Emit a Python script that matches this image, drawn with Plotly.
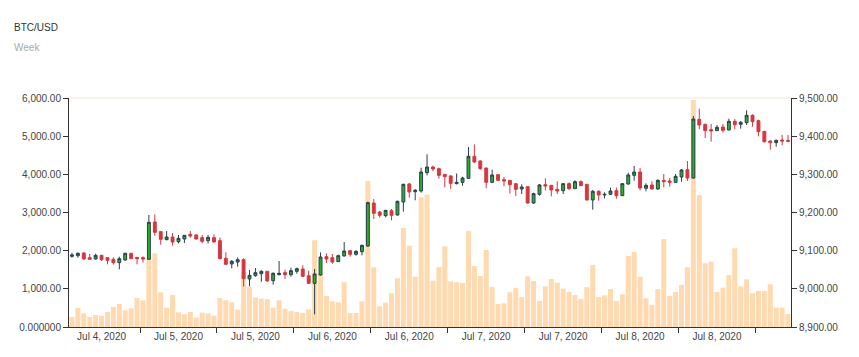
import plotly.graph_objects as go

volume = [262, 498, 358, 262, 314, 297, 393, 524, 603, 437,
          489, 760, 699, 1800, 1930, 908, 507, 838, 384, 332,
          393, 245, 376, 358, 297, 760, 699, 646, 454, 1440,
          1057, 777, 742, 734, 507, 699, 480, 419, 393, 367,
          463, 2271, 1400, 812, 672, 646, 1170, 367, 367, 672,
          3825, 1563, 541, 638, 882, 1275, 2594, 2131, 1319, 3397,
          3467, 1214, 1572, 2114, 1197, 1170, 1153, 2515, 1598, 1336,
          2017, 1048, 603, 620, 908, 1022, 786, 1328, 1205, 681,
          1066, 1258, 1162, 1004, 917, 838, 734, 1048, 1624, 786,
          830, 996, 681, 856, 1860, 1965, 1319, 751, 576, 996,
          2306, 812, 917, 1100, 1563, 5948, 3459, 1668, 1712, 917,
          1031, 1362, 2061, 1066, 1249, 882, 943, 943, 1118, 507,
          507, 341]

open_ = [9085.2, 9086.9, 9093.9, 9081.7, 9078.2, 9087.8, 9081.7, 9077.3, 9068.6, 9075.6,
         9093.0, 9082.5, 9081.7, 9077.3, 9175.1, 9149.8, 9128.8, 9135.8, 9123.6, 9130.6,
         9142.8, 9141.1, 9134.1, 9126.2, 9134.1, 9126.2, 9079.9, 9065.1, 9070.3, 9076.4,
         9025.8, 9034.5, 9039.7, 9045.9, 9021.4, 9037.1, 9042.4, 9037.1, 9045.9, 9052.0,
         9034.5, 9014.4, 9036.3, 9084.3, 9081.7, 9071.2, 9086.0, 9100.0, 9090.4, 9097.4,
         9112.2, 9224.9, 9201.3, 9191.7, 9204.8, 9193.5, 9227.5, 9274.7, 9254.6, 9256.3,
         9304.4, 9319.2, 9314.9, 9300.0, 9295.6, 9275.6, 9279.0, 9289.5, 9347.2, 9335.0,
         9316.6, 9279.0, 9299.1, 9286.0, 9284.3, 9275.6, 9261.6, 9267.7, 9224.9, 9247.6,
         9272.9, 9271.2, 9260.7, 9257.2, 9275.6, 9262.5, 9280.8, 9273.8, 9232.8, 9255.5,
         9245.9, 9247.6, 9257.2, 9244.1, 9274.7, 9297.4, 9306.1, 9263.3, 9272.1, 9261.6,
         9284.3, 9282.5, 9279.0, 9293.0, 9312.2, 9290.4, 9444.1, 9431.0, 9417.0, 9414.4,
         9424.0, 9416.2, 9438.9, 9431.0, 9435.4, 9454.6, 9440.6, 9412.7, 9387.4, 9383.0,
         9390.0, 9389.1]

close = [9088.7, 9093.0, 9078.2, 9077.3, 9087.8, 9076.4, 9074.7, 9068.6, 9079.0, 9093.0,
         9079.0, 9079.0, 9078.2, 9174.2, 9148.0, 9129.7, 9135.8, 9122.7, 9132.3, 9140.2,
         9138.4, 9130.6, 9124.5, 9134.9, 9122.7, 9079.0, 9064.2, 9072.1, 9076.4, 9026.6,
         9035.4, 9042.4, 9045.9, 9020.5, 9040.6, 9040.6, 9037.1, 9047.6, 9052.8, 9032.8,
         9014.4, 9038.9, 9083.4, 9078.2, 9070.3, 9086.9, 9099.1, 9090.4, 9098.3, 9114.0,
         9225.8, 9197.8, 9192.6, 9205.7, 9192.6, 9229.3, 9273.8, 9253.7, 9258.1, 9306.1,
         9319.2, 9314.0, 9297.4, 9293.9, 9276.4, 9279.0, 9290.4, 9347.2, 9332.3, 9314.9,
         9279.0, 9298.3, 9284.3, 9282.5, 9272.9, 9260.7, 9266.8, 9224.9, 9249.4, 9272.1,
         9269.4, 9259.0, 9256.3, 9275.6, 9262.5, 9280.8, 9270.3, 9232.8, 9255.5, 9245.9,
         9247.6, 9256.3, 9244.1, 9275.6, 9298.3, 9306.1, 9264.2, 9271.2, 9261.6, 9284.3,
         9280.8, 9279.0, 9294.8, 9311.4, 9290.4, 9445.0, 9429.3, 9414.4, 9413.6, 9423.2,
         9415.3, 9438.9, 9430.1, 9436.3, 9454.6, 9438.0, 9411.8, 9385.6, 9383.0, 9389.1,
         9387.4, 9386.5]

high = [9094.8, 9095.6, 9095.6, 9091.3, 9092.1, 9088.7, 9082.5, 9082.5, 9084.3, 9094.8,
        9093.9, 9082.5, 9085.2, 9193.5, 9195.2, 9151.5, 9151.5, 9146.3, 9141.2, 9141.1,
        9151.5, 9143.7, 9141.1, 9141.1, 9142.8, 9134.1, 9095.6, 9075.6, 9082.5, 9079.9,
        9049.4, 9054.6, 9048.5, 9046.7, 9043.2, 9072.9, 9050.2, 9055.5, 9055.5, 9061.6,
        9047.6, 9052.0, 9095.6, 9093.0, 9091.3, 9089.5, 9122.7, 9101.8, 9100.9, 9115.7,
        9228.4, 9235.4, 9204.0, 9206.6, 9209.2, 9231.0, 9275.6, 9277.3, 9261.6, 9317.5,
        9352.4, 9322.7, 9317.5, 9300.9, 9298.3, 9302.2, 9293.9, 9371.6, 9378.6, 9336.7,
        9317.5, 9312.2, 9300.0, 9293.0, 9285.2, 9276.4, 9273.8, 9268.6, 9252.0, 9274.7,
        9289.5, 9272.1, 9281.7, 9276.4, 9279.0, 9284.3, 9284.3, 9274.7, 9259.0, 9258.1,
        9252.9, 9265.1, 9265.1, 9276.4, 9304.4, 9321.9, 9316.6, 9276.4, 9281.7, 9286.9,
        9300.9, 9290.4, 9300.9, 9314.0, 9334.9, 9452.9, 9472.1, 9432.8, 9431.9, 9429.3,
        9431.9, 9445.9, 9445.0, 9439.8, 9467.7, 9457.2, 9443.3, 9413.6, 9388.2, 9390.8,
        9403.1, 9403.1]

low = [9081.7, 9081.7, 9076.4, 9076.4, 9076.4, 9072.9, 9064.2, 9063.3, 9051.1, 9073.8,
       9078.2, 9064.2, 9068.6, 9077.3, 9139.3, 9115.7, 9127.1, 9113.1, 9119.2, 9120.1,
       9134.1, 9128.8, 9119.2, 9119.2, 9121.0, 9077.3, 9062.4, 9053.7, 9058.1, 9006.0,
       9006.6, 9031.9, 9018.8, 9018.8, 9010.9, 9035.4, 9025.8, 9031.9, 9039.7, 9031.0,
       9013.5, 8933.2, 9034.5, 9067.7, 9065.9, 9070.3, 9085.2, 9084.3, 9086.9, 9087.8,
       9109.6, 9183.0, 9186.5, 9187.3, 9179.5, 9191.7, 9202.2, 9238.9, 9232.0, 9252.0,
       9297.4, 9308.7, 9288.7, 9265.9, 9261.6, 9273.8, 9270.3, 9287.8, 9329.7, 9312.2,
       9263.3, 9278.2, 9282.5, 9268.6, 9249.4, 9243.3, 9248.5, 9223.2, 9222.3, 9244.1,
       9258.1, 9242.4, 9248.5, 9248.5, 9259.0, 9261.6, 9269.4, 9231.9, 9207.4, 9231.0,
       9237.1, 9245.9, 9236.2, 9243.3, 9272.9, 9283.4, 9258.1, 9255.5, 9260.7, 9259.8,
       9265.9, 9267.7, 9277.3, 9280.8, 9282.5, 9288.7, 9417.9, 9395.2, 9385.6, 9413.6,
       9409.2, 9415.3, 9417.9, 9419.7, 9429.3, 9424.9, 9399.6, 9383.0, 9364.7, 9372.5,
       9376.0, 9385.6]

x_label_pos = [5, 18, 31, 44, 57, 70, 83, 96, 109]
x_labels = ["Jul 4, 2020", "Jul 5, 2020", "Jul 5, 2020", "Jul 6, 2020", "Jul 6, 2020",
            "Jul 7, 2020", "Jul 7, 2020", "Jul 8, 2020", "Jul 8, 2020"]
x_tick_pos = [11.5, 24.5, 37.5, 50.5, 63.5, 76.5, 89.5, 102.5, 115.5]

vol_ticks = [0, 1000, 2000, 3000, 4000, 5000, 6000]
vol_tick_text = ["0.000000", "1,000.00", "2,000.00", "3,000.00", "4,000.00", "5,000.00", "6,000.00"]
price_ticks = [8900, 9000, 9100, 9200, 9300, 9400, 9500]
price_tick_text = ["8,900.00", "9,000.00", "9,100.00", "9,200.00", "9,300.00", "9,400.00", "9,500.00"]

x = list(range(len(volume)))

fig = go.Figure()
fig.add_trace(go.Bar(x=x, y=volume, marker=dict(color="#ffdab0", line=dict(width=0)),
                     yaxis="y", hoverinfo="skip", showlegend=False))
fig.add_trace(go.Candlestick(
    x=x, open=open_, high=high, low=low, close=close, yaxis="y2",
    increasing=dict(fillcolor="#22b322", line=dict(color="#2c3e50", width=1)),
    decreasing=dict(fillcolor="#d6373f", line=dict(color="#d6373f", width=1)),
    whiskerwidth=0, showlegend=False))

axis_font = dict(family="Liberation Sans, Arial, sans-serif", size=10, color="#444")

# page body has an 8px margin, so the figure is shifted; margins compensate
fig.update_layout(
    width=859, height=357,
    margin=dict(l=61, r=76, t=90, b=38),
    paper_bgcolor="white", plot_bgcolor="white",
    bargap=0.15,
    showlegend=False,
    font=axis_font,
    xaxis=dict(range=[-0.5, len(volume) - 0.5], tickvals=x_label_pos, ticktext=x_labels,
               ticks="", showgrid=False, zeroline=False, showline=True, linecolor="#333",
               linewidth=1, tickfont=axis_font, rangeslider=dict(visible=False),
               minor=dict(tickvals=x_tick_pos, ticks="outside", ticklen=5, tickcolor="#333",
                          showgrid=False)),
    yaxis=dict(range=[0, 6000], tickvals=vol_ticks, ticktext=vol_tick_text, side="left",
               ticks="outside", ticklen=5, tickcolor="#333", showgrid=False, zeroline=False,
               showline=True, linecolor="#333", linewidth=1, tickfont=axis_font),
    yaxis2=dict(range=[8900, 9500], tickvals=price_ticks, ticktext=price_tick_text,
                side="right", overlaying="y", ticks="outside", ticklen=5, tickcolor="#333",
                showgrid=False, zeroline=False, showline=True, linecolor="#333", linewidth=1,
                tickfont=axis_font),
    shapes=[
        dict(type="line", xref="paper", yref="paper", x0=0, x1=1, y0=1, y1=1,
             line=dict(color="#fdf1e3", width=2), layer="below"),
        dict(type="rect", xref="paper", yref="paper", x0=0.159, x1=0.244, y0=1.419, y1=1.43,
             fillcolor="#eeeeee", line=dict(width=0)),
    ],
    annotations=[
        dict(text="BTC/USD", xref="paper", yref="paper", x=(12 - 69) / 722, y=(327 - 27.5) / 229,
             xanchor="left", yanchor="middle", showarrow=False,
             font=dict(family="Liberation Sans, Arial, sans-serif", size=10, color="#333")),
        dict(text="Week", xref="paper", yref="paper", x=(12 - 69) / 722, y=(327 - 47.5) / 229,
             xanchor="left", yanchor="middle", showarrow=False,
             font=dict(family="Liberation Sans, Arial, sans-serif", size=10, color="#aaa")),
    ],
)

fig.write_html("out.html")
